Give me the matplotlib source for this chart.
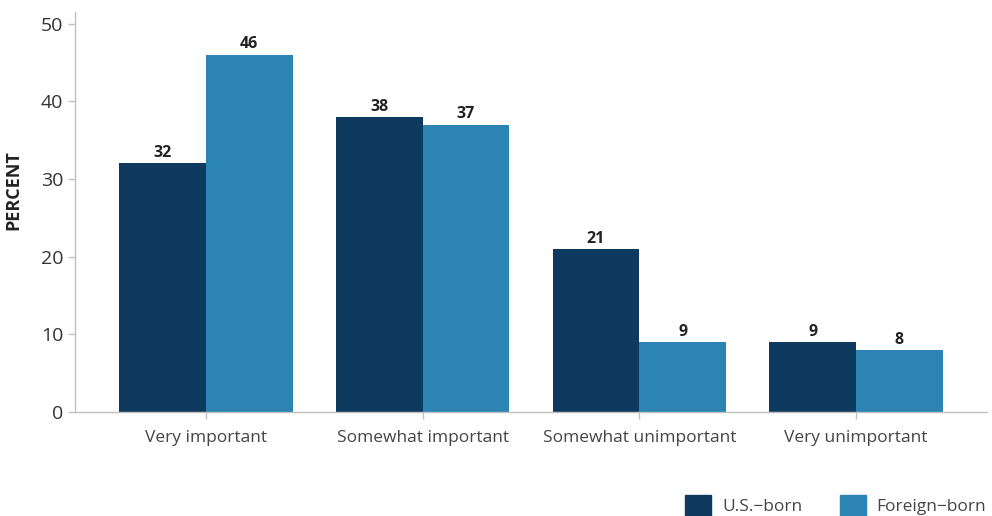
import numpy as np
import matplotlib.pyplot as plt
from matplotlib.patches import Patch

plt.rcParams['font.family'] = ['Open Sans', 'DejaVu Sans']

categories = ['Very important', 'Somewhat important', 'Somewhat unimportant', 'Very unimportant']
us_born = [32, 38, 21, 9]
foreign_born = [46, 37, 9, 8]
series_names = ['U.S.\u2212born', 'Foreign\u2212born']

navy = '#0f3a60'
blue = '#2c84b4'

fig = plt.figure(figsize=(9.92, 5.16), dpi=100)
ax = fig.add_axes([75 / 992, 104 / 516, 912 / 992, 400 / 516])

x = np.arange(len(categories))
w = 0.4
b1 = ax.bar(x - w / 2, us_born, w, color=navy)
b2 = ax.bar(x + w / 2, foreign_born, w, color=blue)

for bars, vals in ((b1, us_born), (b2, foreign_born)):
    for bar, v in zip(bars, vals):
        ax.text(bar.get_x() + bar.get_width() / 2, v + 0.3, str(v),
                ha='center', va='bottom', fontsize=11.5, fontweight='bold', color='#222222')

ax.set_xlim(-0.604, 3.604)
ax.set_ylim(0, 51.5)
ax.set_yticks([0, 10, 20, 30, 40, 50])
ax.set_xticks(x)
ax.set_xticklabels(categories, fontsize=12.5, color='#444444')
ax.tick_params(axis='y', labelsize=14, labelcolor='#333333', length=5, color='#c0c0c0', width=1)
ax.tick_params(axis='x', length=5, color='#c0c0c0', width=1, pad=8)

for s in ('top', 'right'):
    ax.spines[s].set_visible(False)
for s in ('left', 'bottom'):
    ax.spines[s].set_color('#c0c0c0')
    ax.spines[s].set_linewidth(1)

ax.set_ylabel('PERCENT', fontsize=13, fontweight='bold', color='#222222')
ax.yaxis.set_label_coords(-0.058, 0.555)

handles = [Patch(color=navy), Patch(color=blue)]
fig.legend(handles, series_names, loc='lower right', bbox_to_anchor=(1.01, -0.03), ncol=2,
           frameon=False, fontsize=12.5, handlelength=1.5, handleheight=1.5,
           columnspacing=2.2, handletextpad=0.6, labelcolor='#444444')

fig.savefig('out.png', dpi=100)
